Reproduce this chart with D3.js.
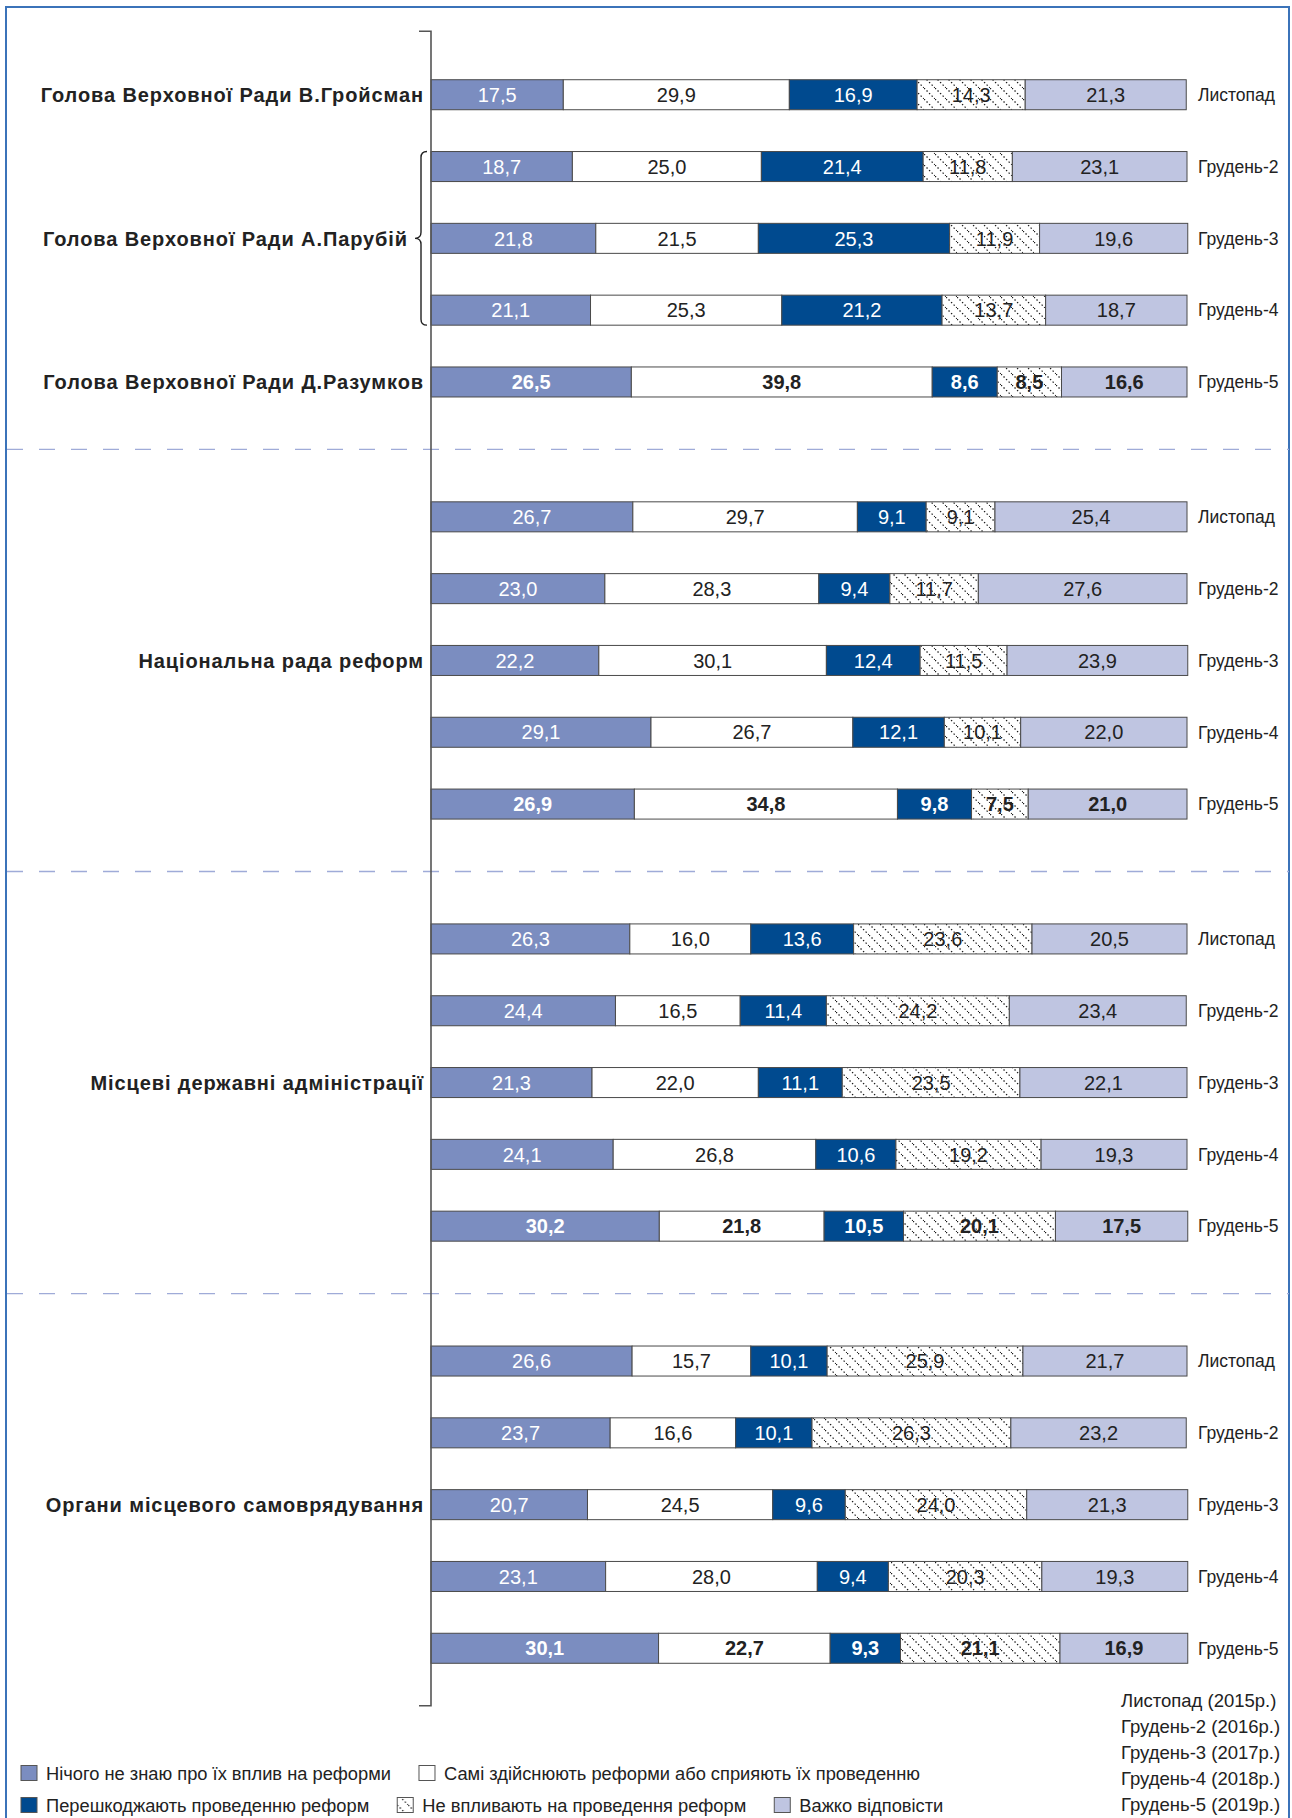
<!DOCTYPE html>
<html>
<head>
<meta charset="utf-8">
<script src="https://cdn.jsdelivr.net/npm/d3@7"></script>
<style>
  body { margin: 0; background: #fff; }
  text { font-family: "Liberation Sans", Arial, sans-serif; }
</style>
</head>
<body>
<svg id="chart" width="1292" height="1818"></svg>
<script>
// groups and periods
const groups = ['Голова Верховної Ради', 'Національна рада реформ', 'Місцеві державні адміністрації', 'Органи місцевого самоврядування'];
const periods = ['Листопад', 'Грудень-2', 'Грудень-3', 'Грудень-4', 'Грудень-5'];
const periodYears = ['Листопад (2015р.)', 'Грудень-2 (2016р.)', 'Грудень-3 (2017р.)', 'Грудень-4 (2018р.)', 'Грудень-5 (2019р.)'];
const seriesNames = [
  'Нічого не знаю про їх вплив на реформи',
  'Самі здійснюють реформи або сприяють їх проведенню',
  'Перешкоджають проведенню реформ',
  'Не впливають на проведення реформ',
  'Важко відповісти'
];

// speaker of parliament changed over the years
const speakerLabels = ['Голова Верховної Ради В.Гройсман', 'Голова Верховної Ради А.Парубій', 'Голова Верховної Ради Д.Разумков'];
const speakerPeriods = [['Листопад'], ['Грудень-2', 'Грудень-3', 'Грудень-4'], ['Грудень-5']];

// values, one row per period, columns in order of seriesNames
const valuesSpeaker = [
  [17.5, 29.9, 16.9, 14.3, 21.3],
  [18.7, 25.0, 21.4, 11.8, 23.1],
  [21.8, 21.5, 25.3, 11.9, 19.6],
  [21.1, 25.3, 21.2, 13.7, 18.7],
  [26.5, 39.8, 8.6, 8.5, 16.6]
];
const valuesCouncil = [
  [26.7, 29.7, 9.1, 9.1, 25.4],
  [23.0, 28.3, 9.4, 11.7, 27.6],
  [22.2, 30.1, 12.4, 11.5, 23.9],
  [29.1, 26.7, 12.1, 10.1, 22.0],
  [26.9, 34.8, 9.8, 7.5, 21.0]
];
const valuesStateAdmin = [
  [26.3, 16.0, 13.6, 23.6, 20.5],
  [24.4, 16.5, 11.4, 24.2, 23.4],
  [21.3, 22.0, 11.1, 23.5, 22.1],
  [24.1, 26.8, 10.6, 19.2, 19.3],
  [30.2, 21.8, 10.5, 20.1, 17.5]
];
const valuesSelfGov = [
  [26.6, 15.7, 10.1, 25.9, 21.7],
  [23.7, 16.6, 10.1, 26.3, 23.2],
  [20.7, 24.5, 9.6, 24.0, 21.3],
  [23.1, 28.0, 9.4, 20.3, 19.3],
  [30.1, 22.7, 9.3, 21.1, 16.9]
];

const fills = ['#7b8dc0', '#ffffff', '#004a8f', 'url(#hatch)', '#bfc5e1'];
const labelColors = ['#fff', '#222', '#fff', '#222', '#222'];

const allValues = [valuesSpeaker, valuesCouncil, valuesStateAdmin, valuesSelfGov];
const keys = d3.range(seriesNames.length).map(i => 's' + i);
const rows = [];
groups.forEach((g, gi) => {
  periods.forEach((p, pi) => {
    const r = { group: g, period: p };
    allValues[gi][pi].forEach((v, i) => { r['s' + i] = v; });
    rows.push(r);
  });
});

const svg = d3.select('#chart');

const defs = svg.append('defs');
const pat = defs.append('pattern')
  .attr('id', 'hatch')
  .attr('patternUnits', 'userSpaceOnUse')
  .attr('width', 11)
  .attr('height', 11);
pat.append('rect').attr('width', 11).attr('height', 11).attr('fill', '#fff');
pat.append('line')
  .attr('x1', 0).attr('y1', 0).attr('x2', 11).attr('y2', 11)
  .attr('stroke', '#1a1a1a')
  .attr('stroke-width', 1.3)
  .attr('stroke-dasharray', '1.4 2.2');

// frame
svg.append('rect')
  .attr('x', 6).attr('y', 7)
  .attr('width', 1283).attr('height', 1830)
  .attr('fill', 'none')
  .attr('stroke', '#3b73b9')
  .attr('stroke-width', 2);

const x = d3.scaleLinear().domain([0, 100]).range([431, 1187]);

const yGroup = d3.scaleBand()
  .domain(groups)
  .range([27.3, 1715.7]);

const yRow = d3.scaleBand()
  .domain(periods)
  .range([0, yGroup.bandwidth()])
  .paddingInner(0.582)
  .paddingOuter(0.73);

const rowY = d => yGroup(d.group) + yRow(d.period);
const bh = yRow.bandwidth();

// separators between groups, halfway between neighbouring bars
svg.append('g')
  .selectAll('line')
  .data(groups.slice(1))
  .join('line')
  .attr('x1', 7).attr('x2', 1289)
  .attr('y1', d => yGroup(d)).attr('y2', d => yGroup(d))
  .attr('stroke', '#9fabd8')
  .attr('stroke-width', 1.3)
  .attr('stroke-dasharray', '16 16');

// stacked segments
const stacked = d3.stack().keys(keys)(rows);

const seg = svg.append('g')
  .selectAll('g')
  .data(stacked)
  .join('g');

seg.selectAll('rect')
  .data(d => d.map(v => ({ v, key: d.key })))
  .join('rect')
  .attr('x', d => x(d.v[0]))
  .attr('y', d => rowY(d.v.data))
  .attr('width', d => x(d.v[1]) - x(d.v[0]))
  .attr('height', bh)
  .attr('fill', d => fills[keys.indexOf(d.key)])
  .attr('stroke', '#4a4a4a')
  .attr('stroke-width', 1);

seg.selectAll('text')
  .data(d => d.map(v => ({ v, key: d.key })))
  .join('text')
  .attr('x', d => (x(d.v[0]) + x(d.v[1])) / 2)
  .attr('y', d => rowY(d.v.data) + bh / 2)
  .attr('dy', '0.36em')
  .attr('text-anchor', 'middle')
  .style('font-size', '20px')
  .style('font-weight', d => d.v.data.period === 'Грудень-5' ? 'bold' : 'normal')
  .attr('fill', d => labelColors[keys.indexOf(d.key)])
  .text(d => d3.format('.1f')(d.v.data[d.key]).replace('.', ','));

// period labels on the right
svg.append('g')
  .selectAll('text')
  .data(rows)
  .join('text')
  .attr('x', x(100) + 11)
  .attr('y', d => rowY(d) + bh / 2)
  .attr('dy', '0.36em')
  .style('font-size', '17.5px')
  .attr('fill', '#222')
  .text(d => d.period);

// axis line with end ticks
const axisTop = yGroup.range()[0] + 4;
const axisBottom = yGroup.range()[1] - 10;
svg.append('path')
  .attr('d', `M${x(0) - 12},${axisTop}H${x(0)}V${axisBottom}H${x(0) - 12}`)
  .attr('fill', 'none')
  .attr('stroke', '#555')
  .attr('stroke-width', 1.6);

// group labels
const groupLabel = svg.append('g')
  .style('font-size', '20px')
  .style('font-weight', 'bold')
  .style('letter-spacing', '0.9px')
  .attr('fill', '#222')
  .attr('text-anchor', 'end');

speakerLabels.forEach((lab, i) => {
  const ps = speakerPeriods[i];
  const mid = ps[Math.floor(ps.length / 2)];
  const cy = yGroup(groups[0]) + yRow(mid) + bh / 2;
  const braced = ps.length > 1;
  groupLabel.append('text')
    .attr('x', braced ? x(0) - 23 : x(0) - 7)
    .attr('y', cy)
    .attr('dy', '0.36em')
    .text(lab);
  if (braced) {
    const top = yGroup(groups[0]) + yRow(ps[0]);
    const bot = yGroup(groups[0]) + yRow(ps[ps.length - 1]) + bh;
    const x0 = x(0) - 10, w = 6;
    svg.append('path')
      .attr('d', `M${x0 + w},${top}Q${x0},${top} ${x0},${top + w}L${x0},${cy - w}Q${x0},${cy} ${x0 - w},${cy}` +
        `Q${x0},${cy} ${x0},${cy + w}L${x0},${bot - w}Q${x0},${bot} ${x0 + w},${bot}`)
      .attr('fill', 'none')
      .attr('stroke', '#222')
      .attr('stroke-width', 1.4);
  }
});

groups.slice(1).forEach(g => {
  groupLabel.append('text')
    .attr('x', x(0) - 7)
    .attr('y', yGroup(g) + yRow('Грудень-3') + bh / 2)
    .attr('dy', '0.36em')
    .text(g);
});

// legend
const legendRows = [[0, 1], [2, 3, 4]];
const legendY = [1773, 1805];
legendRows.forEach((items, ri) => {
  let lx = 21;
  items.forEach(i => {
    const g = svg.append('g').attr('transform', `translate(${lx},${legendY[ri]})`);
    g.append('rect')
      .attr('x', 0).attr('y', -7.5)
      .attr('width', 16).attr('height', 15)
      .attr('fill', fills[i])
      .attr('stroke', '#555')
      .attr('stroke-width', 1);
    const t = g.append('text')
      .attr('x', 25)
      .attr('dy', '0.36em')
      .style('font-size', '18.3px')
      .attr('fill', '#222')
      .text(seriesNames[i]);
    lx += 25 + t.node().getComputedTextLength() + 28;
  });
});

// period key
svg.append('g')
  .selectAll('text')
  .data(periodYears)
  .join('text')
  .attr('x', 1121)
  .attr('y', (d, i) => 1700 + i * 26.2)
  .attr('dy', '0.36em')
  .style('font-size', '18.5px')
  .attr('fill', '#222')
  .text(d => d);
</script>
</body>
</html>
